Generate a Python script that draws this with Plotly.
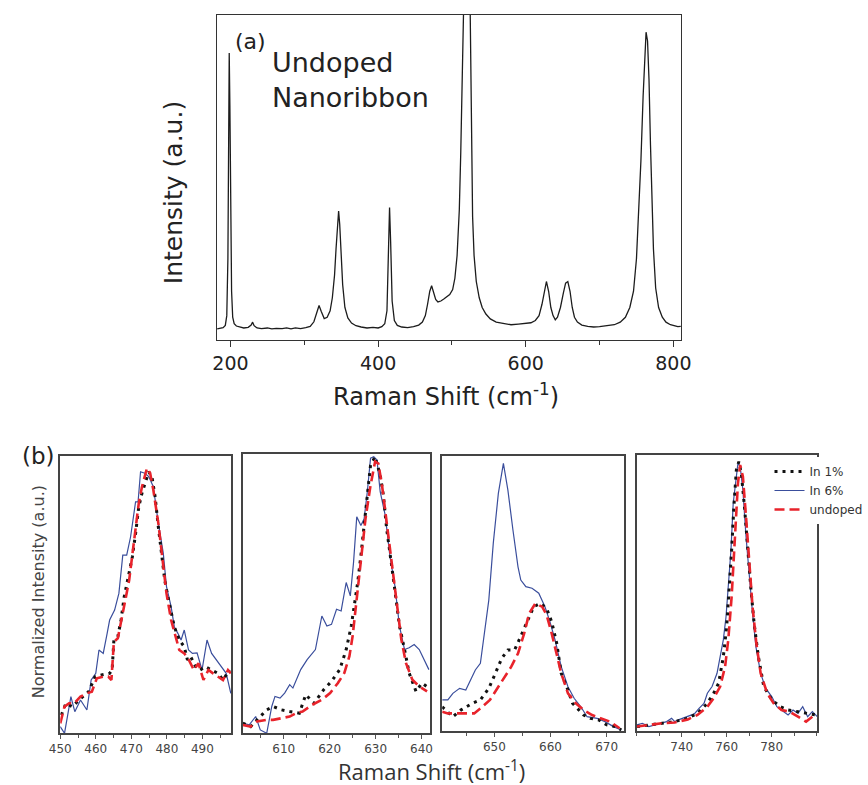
import plotly.graph_objects as go

W, H = 868, 785

# ---------------- (a) full spectrum of the undoped nanoribbon ----------------
raman_shift = [182, 186, 190, 193, 195, 196.5, 197.5, 198.3, 199.2, 200.2, 201.5, 203, 205, 208,
               212, 218, 224, 228, 230, 232, 236, 242, 250, 256, 262, 270, 276, 282, 288, 295,
               302, 308, 313, 317, 320, 323, 327, 331, 335, 338, 341, 343, 345, 346.5, 348, 350,
               352, 355, 359, 364, 370, 377, 385, 393, 400, 405, 409, 412, 414, 415.5, 417, 419,
               422, 426, 432, 440, 448, 455, 460, 464, 467, 470, 472.5, 475, 478, 481, 485, 489,
               493, 497, 501, 504, 507, 510, 512, 514, 515.5, 517, 520, 523, 524.5, 526, 528,
               530, 533, 537, 541, 546, 552, 560, 570, 580, 590, 600, 607, 613, 618, 622, 625,
               628, 631, 634, 637, 640, 643, 647, 651, 654, 657, 660, 663, 666, 670, 676, 684,
               692, 700, 710, 720, 728, 735, 741, 746, 750, 753, 756, 759, 761, 763, 765, 767,
               769, 771, 773, 776, 780, 785, 790, 796, 802, 806, 810]
intensity = [0.034, 0.036, 0.038, 0.045, 0.075, 0.25, 0.6, 0.883, 0.72, 0.4, 0.15, 0.07, 0.05, 0.043,
             0.040, 0.037, 0.039, 0.046, 0.055, 0.044, 0.037, 0.035, 0.037, 0.034, 0.036, 0.035, 0.037,
             0.034, 0.037, 0.035, 0.038, 0.042, 0.056, 0.088, 0.106, 0.088, 0.066, 0.07, 0.09, 0.13,
             0.2, 0.28, 0.37, 0.397, 0.355, 0.26, 0.17, 0.1, 0.068, 0.052, 0.044, 0.04, 0.037, 0.039,
             0.037, 0.041, 0.05, 0.09, 0.25, 0.408, 0.3, 0.12, 0.06, 0.045, 0.04, 0.038, 0.041, 0.046,
             0.055, 0.075, 0.11, 0.15, 0.167, 0.145, 0.125, 0.117, 0.12, 0.126, 0.132, 0.14, 0.155,
             0.19, 0.26, 0.4, 0.58, 0.85, 1.1, 1.4, 1.5, 1.35, 1.05, 0.6, 0.38, 0.26, 0.18, 0.13, 0.1,
             0.08, 0.065, 0.055, 0.05, 0.047, 0.049, 0.05, 0.053, 0.06, 0.075, 0.11, 0.15, 0.18, 0.15,
             0.1, 0.075, 0.062, 0.07, 0.1, 0.145, 0.175, 0.18, 0.15, 0.1, 0.07, 0.055, 0.046, 0.042,
             0.04, 0.041, 0.043, 0.047, 0.055, 0.07, 0.1, 0.15, 0.25, 0.38, 0.55, 0.75, 0.88, 0.947,
             0.92, 0.8, 0.6, 0.42, 0.28, 0.16, 0.1, 0.07, 0.055, 0.047, 0.043, 0.041, 0.042]

# ---------------- (b) normalized close-ups of four bands ----------------
# 460-500 cm-1 band
b1_x_in6 = [450.0, 451.2, 453.0, 454.1, 455.7, 457.5, 458.7, 460.0, 460.9, 462.1, 463.2, 463.9, 465.3,
            466.5, 467.6, 468.7, 469.8, 471.2, 471.9, 472.6, 473.8, 474.9, 476.2, 477.6, 479.0, 479.9,
            481.2, 482.1, 483.1, 484.0, 484.9, 486.1, 487.2, 488.5, 489.9, 491.3, 492.6, 494.0, 495.4,
            496.7, 498.0]
b1_y_in6 = [0.024, 0.0, 0.132, 0.078, 0.12, 0.084, 0.192, 0.216, 0.3, 0.288, 0.36, 0.408, 0.444, 0.504,
            0.642, 0.642, 0.708, 0.834, 0.834, 0.942, 0.937, 0.925, 0.888, 0.757, 0.648, 0.528, 0.456,
            0.384, 0.36, 0.336, 0.372, 0.3, 0.288, 0.29, 0.228, 0.336, 0.288, 0.264, 0.24, 0.216, 0.144]
b1_x_in1 = [450.3, 451.6, 453.4, 455.3, 458.0, 459.8, 461.6, 463.9, 464.6, 465.1, 466.2, 467.1, 468.0,
            468.9, 470.3, 471.2, 472.1, 473.0, 473.9, 474.9, 475.8, 476.7, 477.6, 478.5, 479.4, 480.3,
            481.2, 482.1, 483.5, 484.9, 485.8, 486.7, 488.1, 489.4, 490.8, 492.6, 494.4, 495.8, 497.6]
b1_y_in1 = [0.066, 0.108, 0.096, 0.12, 0.15, 0.204, 0.21, 0.216, 0.228, 0.336, 0.348, 0.408, 0.492,
            0.552, 0.636, 0.72, 0.816, 0.865, 0.9, 0.942, 0.925, 0.852, 0.744, 0.648, 0.552, 0.492,
            0.432, 0.384, 0.336, 0.312, 0.264, 0.276, 0.24, 0.228, 0.24, 0.228, 0.216, 0.192, 0.228]
b1_x_und = [450.0, 451.2, 452.5, 453.9, 455.7, 457.5, 458.9, 460.3, 462.1, 463.5, 464.4, 465.1, 466.2,
            467.1, 468.5, 469.4, 470.3, 471.2, 472.1, 473.0, 474.4, 475.3, 476.2, 477.6, 478.5, 479.9,
            481.2, 482.6, 483.5, 484.9, 486.2, 487.6, 488.9, 490.3, 491.7, 493.0, 494.4, 495.8, 497.2,
            498.0]
b1_y_und = [0.036, 0.096, 0.108, 0.108, 0.132, 0.144, 0.15, 0.198, 0.204, 0.204, 0.192, 0.33, 0.342,
            0.396, 0.492, 0.552, 0.648, 0.744, 0.829, 0.888, 0.955, 0.937, 0.876, 0.757, 0.66, 0.504,
            0.408, 0.336, 0.3, 0.288, 0.264, 0.228, 0.252, 0.192, 0.228, 0.216, 0.204, 0.192, 0.228,
            0.216]

# 630 cm-1 band
b2_x_in6 = [601.1, 602.5, 603.9, 604.9, 606.3, 607.4, 608.1, 609.2, 610.2, 611.3, 612.0, 612.7, 613.7,
            615.1, 616.9, 617.6, 618.3, 619.4, 620.4, 621.5, 622.5, 623.6, 624.5, 625.2, 625.9, 626.8,
            627.5, 628.2, 628.9, 629.6, 630.3, 631.0, 632.1, 633.1, 634.2, 635.2, 636.3, 637.3, 638.4,
            639.5, 640.5, 641.6]
b2_y_in6 = [0.036, 0.03, 0.06, 0.012, 0.0, 0.096, 0.132, 0.126, 0.144, 0.174, 0.162, 0.192, 0.228, 0.264,
            0.3, 0.36, 0.42, 0.384, 0.39, 0.444, 0.438, 0.54, 0.492, 0.612, 0.775, 0.744, 0.768, 0.865,
            0.985, 0.99, 0.978, 0.865, 0.78, 0.636, 0.528, 0.384, 0.3, 0.306, 0.318, 0.3, 0.264, 0.228]
b2_x_in1 = [601.1, 602.8, 604.2, 606.3, 607.7, 609.5, 611.3, 613.4, 614.8, 616.6, 618.7, 620.4, 622.2,
            623.6, 624.7, 625.4, 626.1, 626.8, 627.5, 628.2, 628.9, 629.9, 631.0, 631.7, 632.4, 633.5,
            634.5, 635.2, 636.3, 637.3, 638.8, 640.1, 641.6]
b2_y_in1 = [0.036, 0.024, 0.048, 0.084, 0.096, 0.084, 0.078, 0.072, 0.138, 0.108, 0.156, 0.186, 0.228,
            0.3, 0.384, 0.456, 0.54, 0.636, 0.744, 0.852, 0.96, 0.99, 0.925, 0.852, 0.732, 0.6, 0.48,
            0.384, 0.3, 0.216, 0.15, 0.18, 0.162]
b2_x_und = [601.1, 602.8, 604.2, 606.3, 607.7, 609.5, 611.3, 612.7, 614.1, 616.2, 618.3, 620.1, 621.8,
            623.2, 624.3, 625.0, 625.7, 626.4, 627.1, 627.8, 628.9, 629.9, 630.6, 631.4, 632.4, 633.5,
            634.5, 635.6, 636.6, 638.0, 639.5, 641.2]
b2_y_und = [0.03, 0.024, 0.042, 0.048, 0.048, 0.054, 0.06, 0.072, 0.078, 0.102, 0.12, 0.144, 0.18, 0.216,
            0.276, 0.348, 0.456, 0.552, 0.66, 0.768, 0.888, 0.973, 0.966, 0.888, 0.757, 0.612, 0.468,
            0.336, 0.252, 0.192, 0.168, 0.15]

# 650-660 cm-1 band
b3_x_in6 = [640.7, 641.7, 642.6, 643.8, 644.9, 645.8, 646.6, 647.5, 648.1, 649.0, 649.8, 650.7, 651.6,
            652.4, 653.3, 654.2, 654.7, 655.6, 656.7, 657.9, 659.0, 659.9, 660.8, 661.9, 663.1, 664.2,
            665.4, 666.5, 668.3, 669.7, 671.2, 672.6]
b3_y_in6 = [0.113, 0.113, 0.137, 0.155, 0.149, 0.185, 0.222, 0.246, 0.331, 0.476, 0.683, 0.864, 0.973,
            0.876, 0.731, 0.597, 0.549, 0.525, 0.519, 0.501, 0.452, 0.397, 0.331, 0.234, 0.161, 0.119,
            0.088, 0.052, 0.046, 0.034, 0.016, 0.004]
b3_x_in1 = [640.7, 642.6, 644.0, 646.1, 647.5, 649.0, 649.8, 651.3, 652.4, 653.6, 654.4, 655.3, 656.2,
            657.0, 658.2, 659.3, 660.2, 661.1, 661.9, 663.1, 663.9, 665.1, 665.9, 667.1, 668.6, 670.0,
            671.5, 672.6]
b3_y_in1 = [0.088, 0.052, 0.076, 0.101, 0.113, 0.155, 0.192, 0.264, 0.295, 0.295, 0.331, 0.373, 0.416,
            0.452, 0.464, 0.446, 0.397, 0.319, 0.21, 0.149, 0.101, 0.076, 0.058, 0.046, 0.04, 0.022,
            0.016, 0.004]
b3_x_und = [640.7, 641.7, 642.9, 644.6, 646.4, 647.5, 649.2, 650.7, 651.8, 653.0, 654.2, 655.3, 656.2,
            657.3, 658.5, 659.3, 660.2, 661.1, 661.9, 663.1, 664.5, 665.9, 667.4, 668.9, 670.6, 672.3]
b3_y_und = [0.07, 0.064, 0.064, 0.064, 0.064, 0.082, 0.113, 0.161, 0.197, 0.234, 0.282, 0.355, 0.428,
            0.464, 0.452, 0.422, 0.355, 0.282, 0.21, 0.137, 0.101, 0.076, 0.058, 0.046, 0.034, 0.01]

# 765 cm-1 band
b4_x_in6 = [720.1, 722.5, 725.4, 728.3, 731.2, 733.3, 735.5, 736.9, 739.1, 742.7, 745.6, 747.7, 749.9,
            751.4, 753.5, 755.7, 757.1, 758.5, 759.7, 760.7, 761.9, 762.9, 764.0, 765.0, 766.0, 767.2,
            768.6, 770.1, 771.5, 773.0, 775.1, 777.3, 780.1, 782.3, 784.4, 787.3, 789.5, 791.7, 793.8,
            796.0, 798.1, 800.3]
b4_y_in6 = [0.022, 0.028, 0.016, 0.022, 0.028, 0.034, 0.046, 0.034, 0.042, 0.052, 0.062, 0.082, 0.1,
            0.137, 0.161, 0.209, 0.269, 0.33, 0.414, 0.523, 0.656, 0.825, 0.909, 0.97, 0.958, 0.873,
            0.704, 0.547, 0.426, 0.305, 0.209, 0.155, 0.124, 0.088, 0.076, 0.058, 0.076, 0.064, 0.088,
            0.052, 0.07, 0.052]
b4_x_in1 = [720.1, 725.4, 731.2, 736.9, 742.7, 747.0, 751.4, 754.2, 756.4, 758.5, 760.0, 761.1, 762.2,
            763.2, 764.3, 765.4, 766.5, 767.9, 769.3, 770.8, 772.2, 774.1, 776.5, 780.1, 783.8, 787.3,
            791.7, 796.0, 799.6]
b4_y_in1 = [0.016, 0.022, 0.028, 0.034, 0.046, 0.064, 0.1, 0.137, 0.173, 0.269, 0.378, 0.511, 0.656,
            0.813, 0.946, 0.976, 0.934, 0.813, 0.656, 0.511, 0.39, 0.269, 0.161, 0.113, 0.088, 0.076,
            0.07, 0.064, 0.058]
b4_x_und = [720.1, 725.4, 731.2, 736.9, 742.7, 747.0, 751.4, 754.2, 757.1, 759.3, 760.7, 762.2, 763.6,
            765.0, 766.0, 767.2, 768.6, 770.1, 771.5, 773.2, 775.1, 778.0, 780.9, 784.4, 788.0, 791.7,
            795.3, 798.1, 800.3]
b4_y_und = [0.016, 0.022, 0.028, 0.031, 0.042, 0.058, 0.088, 0.119, 0.161, 0.234, 0.33, 0.487, 0.692,
            0.897, 0.964, 0.922, 0.776, 0.595, 0.45, 0.317, 0.209, 0.137, 0.1, 0.076, 0.07, 0.052, 0.034,
            0.052, 0.046]

band_ranges = [[450, 498.1], [601.1, 641.9], [640.7, 673.0], [720.0, 800.2]]
band_ticks = [[450, 460, 470, 480, 490], [610, 620, 630, 640], [650, 660, 670], [740, 760, 780]]
band_minor = [5, 5, 5, 10]

bands = [
    (b1_x_in1, b1_y_in1, b1_x_in6, b1_y_in6, b1_x_und, b1_y_und),
    (b2_x_in1, b2_y_in1, b2_x_in6, b2_y_in6, b2_x_und, b2_y_und),
    (b3_x_in1, b3_y_in1, b3_x_in6, b3_y_in6, b3_x_und, b3_y_und),
    (b4_x_in1, b4_y_in1, b4_x_in6, b4_y_in6, b4_x_und, b4_y_und),
]
series_names = ["In 1%", "In 6%", "undoped"]


def px_x(p):
    return p / W


def px_y(p):
    return 1 - p / H


SANS = "DejaVu Sans"
BLUE = "#3a4e9c"
RED = "#e8232b"
DOTS = "#111111"

fig = go.Figure()

# spectrum (a)
fig.add_trace(go.Scatter(x=raman_shift, y=intensity, mode="lines",
                         line=dict(color="#1c1c1c", width=1.3),
                         xaxis="x", yaxis="y", showlegend=False, hoverinfo="skip"))

# close-ups (b)
for i, (x1, y1, x6, y6, xu, yu) in enumerate(bands):
    ax = str(i + 2)
    first = i == 0
    fig.add_trace(go.Scatter(x=x6, y=y6, mode="lines", name=series_names[1],
                             line=dict(color=BLUE, width=1.2),
                             xaxis="x" + ax, yaxis="y" + ax, showlegend=first, legendrank=2))
    fig.add_trace(go.Scatter(x=x1, y=y1, mode="lines", name=series_names[0],
                             line=dict(color=DOTS, width=3, dash="3px,5px"),
                             xaxis="x" + ax, yaxis="y" + ax, showlegend=first, legendrank=1))
    fig.add_trace(go.Scatter(x=xu, y=yu, mode="lines", name=series_names[2],
                             line=dict(color=RED, width=2.6, dash="10px,5px"),
                             xaxis="x" + ax, yaxis="y" + ax, showlegend=first, legendrank=3))

layout = dict(
    width=W, height=H,
    margin=dict(l=0, r=0, t=0, b=0),
    paper_bgcolor="white", plot_bgcolor="white",
    font=dict(family=SANS, color="#222"),
    xaxis=dict(domain=[px_x(212), px_x(690)], anchor="y", range=[181.6, 810.5],
               tickvals=[200, 400, 600, 800], ticks="outside", ticklen=6, tickwidth=1.2,
               tickcolor="#333", showline=True, linecolor="#333", linewidth=1.3, mirror=True,
               showgrid=False, zeroline=False, tickfont=dict(family=SANS, size=19, color="#222"),
               minor=dict(tickvals=[300, 500, 700], ticks="outside", ticklen=4,
                          tickcolor="#333", showgrid=False)),
    yaxis=dict(domain=[px_y(340), px_y(15)], anchor="x", range=[0, 1],
               showticklabels=False, ticks="", showline=True, linecolor="#333", linewidth=1.3,
               mirror=True, showgrid=False, zeroline=False),
    legend=dict(x=px_x(781), y=px_y(457), xanchor="left", yanchor="top",
                bgcolor="white", borderwidth=0, font=dict(family=SANS, size=12, color="#333"),
                itemwidth=30, tracegroupgap=0),
)

band_x = [(50.7, 226.7), (238.7, 431.7), (444.0, 630.7), (644.3, 830.0)]
band_y = [(455.7, 733.3), (454.0, 733.3), (456.0, 731.0), (455.0, 731.0)]
for i in range(4):
    n = str(i + 2)
    layout["xaxis" + n] = dict(
        domain=[px_x(band_x[i][0]), px_x(band_x[i][1])], anchor="y" + n,
        range=band_ranges[i], tickvals=band_ticks[i], ticks="outside", ticklen=4,
        tickcolor="#555", showline=True, linecolor="#444", linewidth=1.5, mirror=True,
        showgrid=False, zeroline=False, tickfont=dict(family=SANS, size=12, color="#444"),
        minor=dict(dtick=band_minor[i], tick0=band_ticks[i][0], ticks="outside", ticklen=3,
                   tickcolor="#555", showgrid=False))
    layout["yaxis" + n] = dict(
        domain=[px_y(band_y[i][1]), px_y(band_y[i][0])], anchor="x" + n, range=[0, 1],
        showticklabels=False, ticks="", showline=True, linecolor="#444", linewidth=1.5,
        mirror=True, showgrid=False, zeroline=False)

fig.update_layout(**layout)

notes = [
    dict(text="(a)", x=px_x(247), y=px_y(42), size=22, family=SANS, anchor="center", angle=0,
         color="#222"),
    dict(text="Undoped<br>Nanoribbon", x=px_x(267), y=px_y(80), size=27, family=SANS,
         anchor="left", angle=0, color="#222"),
    dict(text="Intensity (a.u.)", x=px_x(168), y=px_y(193), size=25, family=SANS,
         anchor="center", angle=-90, color="#222"),
    dict(text="Raman Shift (cm<sup>-1</sup>)", x=px_x(448), y=px_y(395), size=24, family=SANS,
         anchor="center", angle=0, color="#222"),
    dict(text="(b)", x=px_x(28), y=px_y(456), size=23, family=SANS, anchor="center", angle=0,
         color="#222"),
    dict(text="Normalized Intensity (a.u.)", x=px_x(28), y=px_y(592), size=16, family=SANS,
         anchor="center", angle=-90, color="#444"),
    dict(text="Raman Shift (cm<sup>-1</sup>)", x=px_x(433), y=px_y(770), size=22,
         family="Open Sans", anchor="center", angle=0, color="#333"),
]
for a in notes:
    fig.add_annotation(text=a["text"], x=a["x"], y=a["y"], xref="paper", yref="paper",
                       showarrow=False, xanchor=a["anchor"], yanchor="middle",
                       textangle=a["angle"], align="left",
                       font=dict(family=a["family"], size=a["size"], color=a["color"]))

fig.write_html("out.html")
